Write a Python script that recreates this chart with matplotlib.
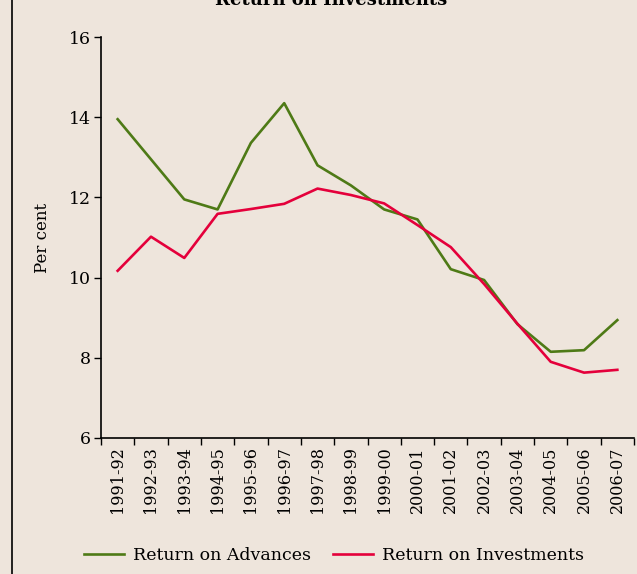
import matplotlib
matplotlib.use("Agg")
import matplotlib.pyplot as plt
import numpy as np
from matplotlib.lines import Line2D

years = ["1991-92", "1992-93", "1993-94", "1994-95", "1995-96", "1996-97", "1997-98",
         "1998-99", "1999-00", "2000-01", "2001-02", "2002-03", "2003-04", "2004-05",
         "2005-06", "2006-07"]
advances = [13.95, 12.95, 11.95, 11.70, 13.36, 14.35, 12.80, 12.30, 11.70, 11.45,
            10.21, 9.94, 8.84, 8.15, 8.19, 8.94]
investments = [10.17, 11.02, 10.49, 11.59, 11.71, 11.84, 12.22, 12.06, 11.85, 11.31,
               10.76, 9.84, 8.85, 7.90, 7.63, 7.70]
yticks = [6, 8, 10, 12, 14, 16]

bg = "#EEE5DC"
green = "#4E7A16"
red = "#E4003B"
plt.rcParams['font.family'] = ['DejaVu Serif']

fig = plt.figure(figsize=(6.37, 5.74), dpi=100, facecolor=bg)
W, H = 637, 574
ax = fig.add_axes([101 / W, 1 - 438 / H, (634 - 101) / W, (438 - 37) / H])
ax.set_facecolor(bg)

x = np.arange(len(years))
ax.plot(x, advances, color=green, lw=1.9, label="Return on Advances")
ax.plot(x, investments, color=red, lw=1.9, label="Return on Investments")

ax.set_xlim(-0.5, len(years) - 0.5)
ax.set_ylim(6, 16)
ax.set_yticks(yticks)
ax.set_yticklabels([str(v) for v in yticks], fontsize=12.5)
ax.set_xticks(np.arange(len(years) + 1) - 0.5)
ax.set_xticklabels([])
ax.set_xticks(x, minor=True)
ax.set_xticklabels(years, minor=True, rotation=90, fontsize=11.5)
ax.tick_params(axis='x', which='minor', length=0, pad=6)
ax.tick_params(axis='x', which='major', length=5, width=1)
ax.tick_params(axis='y', length=5, width=1, pad=2)
for s in ['top', 'right']:
    ax.spines[s].set_visible(False)
for s in ['left', 'bottom']:
    ax.spines[s].set_linewidth(1.2)
ax.set_ylabel("Per cent", fontsize=12, labelpad=13)

fig.text(331 / W, 1 - 0 / H, "Return on Investments", ha='center', va='center',
         fontsize=13, fontweight='bold')

# left border line
fig.add_artist(Line2D([12 / W, 12 / W], [0, 1], color='black', lw=1.2,
                      transform=fig.transFigure))

handles = [Line2D([], [], color=green, lw=1.9), Line2D([], [], color=red, lw=1.9)]
fig.legend(handles, ["Return on Advances", "Return on Investments"],
           loc='center', bbox_to_anchor=(334 / W, 1 - 556 / H), ncol=2, frameon=False,
           fontsize=12.5, handlelength=2.3, columnspacing=1.3, handletextpad=0.5)

fig.savefig("out.png", dpi=100, facecolor=bg)
